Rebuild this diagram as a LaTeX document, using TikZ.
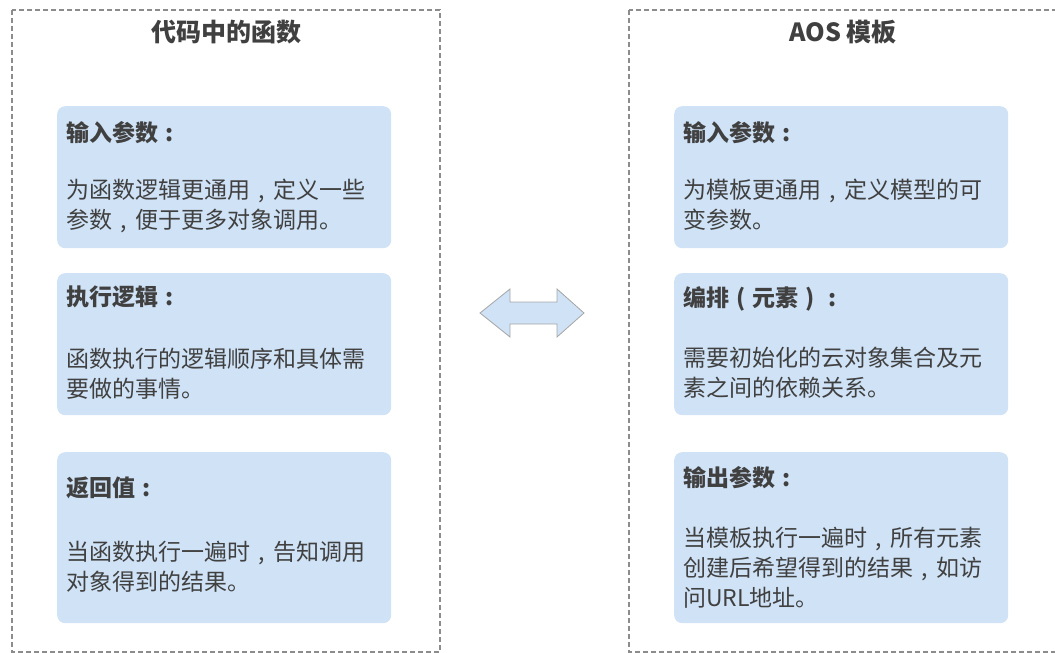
\documentclass[tikz,border=0pt]{standalone}
\usepackage{fontspec}
\setmainfont{Noto Sans CJK SC}
\usepackage{xcolor}
\definecolor{cardblue}{RGB}{207,226,246}
\definecolor{inkgray}{RGB}{64,64,64}
\definecolor{dashgray}{RGB}{140,140,140}
\newcommand{\fw}[1]{\makebox[1em][c]{#1}}

\begin{document}
\begin{tikzpicture}[x=1pt,y=-1pt,
	panel/.style={draw=dashgray,line width=1.1pt,dash pattern=on 5pt off 3pt},
	card/.style={fill=cardblue,draw=none,rounded corners=8pt,anchor=north west,
		minimum width=334pt,inner sep=0pt},
	title/.style={text=inkgray,font=\fontsize{25}{28}\selectfont\bfseries},
	head/.style={text=inkgray,anchor=north west,inner sep=0pt,
		font=\fontsize{23}{30}\selectfont\bfseries},
	body/.style={text=inkgray,anchor=north west,inner sep=0pt,align=left,
		font=\fontsize{23}{30}\selectfont}]
	\useasboundingbox (0,0) rectangle (1055,653);

	\draw[panel] (12,10) rectangle (440,652);
	\draw[panel] (629,10) rectangle (1057,652);
	\node[title] (codeT) at (226,32) {代码中的函数};
	\node[title] (aosT) at (843,32) {AOS 模板};

	\node[card,minimum height=142pt] (codeIn) at (57,106) {};
	\node[card,minimum height=142pt] (codeRun) at (57,273) {};
	\node[card,minimum height=171pt] (codeRet) at (57,452) {};
	\node[card,minimum height=142pt] (aosIn) at (674,106) {};
	\node[card,minimum height=142pt] (aosOrd) at (674,273) {};
	\node[card,minimum height=171pt] (aosOut) at (674,452) {};

	\node[head] (codeInH) at (66,121) {输入参数\fw{:}};
	\node[body] (codeInB) at (66,179) {为函数逻辑更通用\fw{,}定义一些\\参数\fw{,}便于更多对象调用。};
	\node[head] (codeRunH) at (66,286) {执行逻辑\fw{:}};
	\node[body] (codeRunB) at (66,348) {函数执行的逻辑顺序和具体需\\要做的事情。};
	\node[head] (codeRetH) at (66,477) {返回值\fw{:}};
	\node[body] (codeRetB) at (66,541) {当函数执行一遍时\fw{,}告知调用\\对象得到的结果。};

	\node[head] (aosInH) at (683,121) {输入参数\fw{:}};
	\node[body] (aosInB) at (683,179) {为模板更通用\fw{,}定义模型的可\\变参数。};
	\node[head] (aosOrdH) at (683,286) {编排\fw{(}元素\fw{)}\fw{:}};
	\node[body] (aosOrdB) at (683,347) {需要初始化的云对象集合及元\\素之间的依赖关系。};
	\node[head] (aosOutH) at (683,466) {输出参数\fw{:}};
	\node[body] (aosOutB) at (683,527) {当模板执行一遍时\fw{,}所有元素\\创建后希望得到的结果\fw{,}如访\\问URL地址。};

	\draw[fill=cardblue,draw=gray!70,line width=0.8pt,line join=miter]
		(480,313) -- (510,289) -- (510,302) -- (557,302) -- (557,289) -- (584,313)
		-- (557,337) -- (557,324) -- (510,324) -- (510,337) -- cycle;
\end{tikzpicture}
\end{document}
